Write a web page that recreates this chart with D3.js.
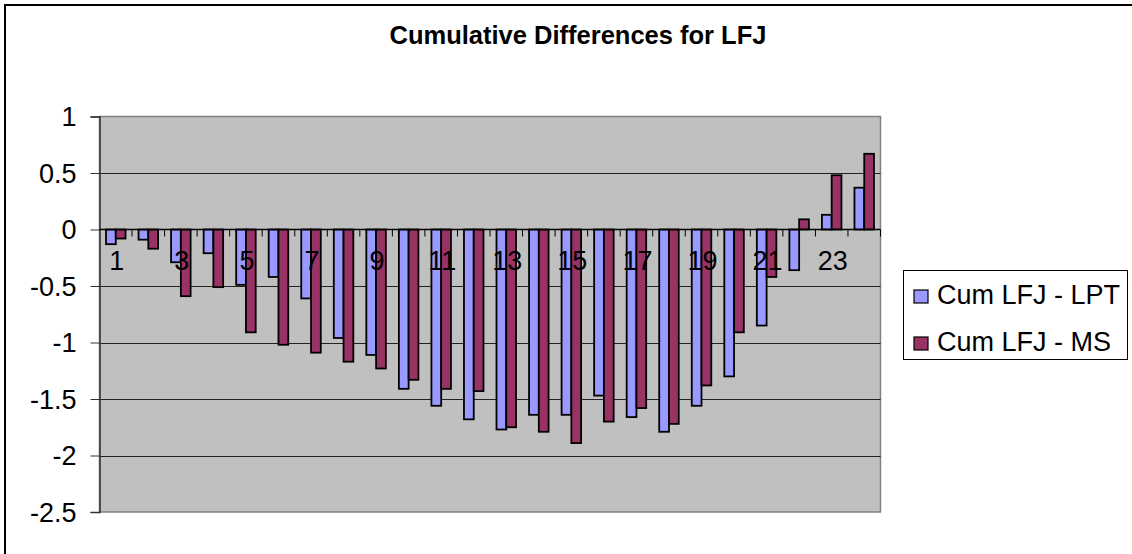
<!DOCTYPE html>
<html><head><meta charset="utf-8">
<script src="https://cdn.jsdelivr.net/npm/d3@7/dist/d3.min.js"></script>
<style>body{margin:0;background:#fff;}svg{display:block;font-family:"Liberation Sans",Arial,sans-serif;}</style>
</head><body>
<svg id="c" width="1132" height="554"></svg>
<script>
const categories = d3.range(1, 25).map(String);
const seriesNames = ["Cum LFJ - LPT", "Cum LFJ - MS"];
const lpt = [-0.13,-0.09,-0.29,-0.21,-0.49,-0.42,-0.61,-0.96,-1.11,-1.41,-1.56,-1.68,-1.77,-1.64,-1.64,-1.47,-1.66,-1.79,-1.56,-1.30,-0.85,-0.36,0.13,0.37];
const ms  = [-0.08,-0.17,-0.59,-0.51,-0.91,-1.02,-1.09,-1.17,-1.23,-1.33,-1.41,-1.43,-1.75,-1.79,-1.89,-1.70,-1.58,-1.72,-1.38,-0.91,-0.42,0.09,0.48,0.67];
const yTicks = [1, 0.5, 0, -0.5, -1, -1.5, -2, -2.5];
const xLabels = categories.filter((d, i) => i % 2 === 0);
const colors = ["#9999FF", "#993366"];
const title = "Cumulative Differences for LFJ";

const svg = d3.select("#c");
svg.append("rect").attr("x", 5).attr("y", 5).attr("width", 1140).attr("height", 560)
  .attr("fill", "#fff").attr("stroke", "#000").attr("stroke-width", 2);

const L = 99.5, R = 880.5, T = 116.5, B = 512;
const y = d3.scaleLinear().domain([-2.5, 1]).range([B, T]);
const x = d3.scaleBand().domain(categories).range([L, R]).paddingInner(0).paddingOuter(0);
const step = x.bandwidth();
const groupW = step * 0.6;
const xs = d3.scaleBand().domain([0, 1]).range([0, groupW]);

svg.append("rect").attr("x", L).attr("y", T).attr("width", R - L).attr("height", B - T)
  .attr("fill", "#C0C0C0").attr("stroke", "#808080").attr("stroke-width", 1.5);

svg.append("g").selectAll("line").data(yTicks.filter(d => d !== 0 && d !== -2.5 && d !== 1)).join("line")
  .attr("x1", L).attr("x2", R).attr("y1", d => Math.round(y(d)) + 0.5).attr("y2", d => Math.round(y(d)) + 0.5)
  .attr("stroke", "#222").attr("stroke-width", 1);

const data = categories.map((c, i) => ({ c, v: [lpt[i], ms[i]] }));
const g = svg.append("g");
data.forEach(d => {
  d.v.forEach((v, k) => {
    const x0 = x(d.c) + (step - groupW) / 2 + xs(k);
    g.append("rect")
      .attr("x", x0).attr("width", xs.bandwidth())
      .attr("y", Math.min(y(v), y(0))).attr("height", Math.abs(y(v) - y(0)))
      .attr("fill", colors[k]).attr("stroke", "#000").attr("stroke-width", 1.8);
  });
});

const yAxis = d3.axisLeft(y).tickValues(yTicks).tickSize(9).tickFormat(d => String(d)).tickPadding(14);
const ya = svg.append("g").attr("transform", `translate(${L},0)`).call(yAxis);
ya.select(".domain").attr("stroke", "#333").attr("stroke-width", 1.5);
ya.selectAll(".tick line").attr("stroke", "#333");
ya.selectAll("text").attr("font-size", 27).attr("fill", "#000")
  .attr("font-family", "Liberation Sans, Arial, sans-serif").attr("dy", "0.35em");

const y0 = y(0);
svg.append("line").attr("x1", L).attr("x2", R).attr("y1", y0).attr("y2", y0).attr("stroke", "#000").attr("stroke-width", 1.5);
svg.append("g").selectAll("line").data(categories.slice(1).concat(["end"])).join("line")
  .attr("x1", d => d === "end" ? R : x(d)).attr("x2", d => d === "end" ? R : x(d))
  .attr("y1", y0).attr("y2", y0 + 7).attr("stroke", "#000").attr("stroke-width", 1);
svg.append("g").selectAll("text").data(xLabels).join("text")
  .attr("x", d => x(d) + step / 2 + 1).attr("y", 270)
  .attr("text-anchor", "middle").attr("font-size", 27).text(d => d);

svg.append("text").attr("x", 578).attr("y", 44).attr("text-anchor", "middle")
  .attr("font-size", 25.5).attr("font-weight", "bold").text(title);

const lg = svg.append("g");
lg.append("rect").attr("x", 903.5).attr("y", 270.5).attr("width", 224).attr("height", 89)
  .attr("fill", "#fff").attr("stroke", "#000").attr("stroke-width", 1);
seriesNames.forEach((n, k) => {
  const yy = 290 + k * 47;
  lg.append("rect").attr("x", 914).attr("y", yy).attr("width", 14).attr("height", 13)
    .attr("fill", colors[k]).attr("stroke", "#000").attr("stroke-width", 1.2);
  lg.append("text").attr("x", 937).attr("y", yy + 13.5).attr("font-size", 27).text(n);
});
</script>
</body></html>
